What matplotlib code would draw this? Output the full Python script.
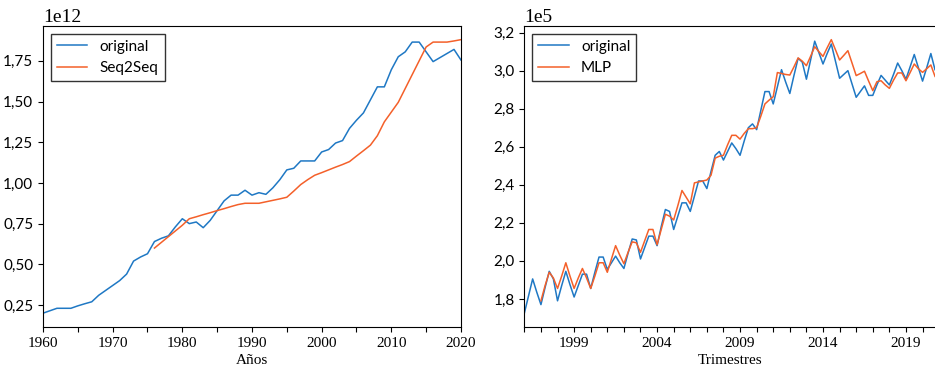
import matplotlib
matplotlib.use('Agg')
import matplotlib.pyplot as plt
from matplotlib.ticker import ScalarFormatter, MultipleLocator, FuncFormatter
import numpy as np

# ---- data: yearly series (units of 1e12) ----
years = list(range(1960, 2021))
original_yearly = [
    0.20, 0.215, 0.23, 0.23, 0.23, 0.245, 0.258, 0.27, 0.31, 0.34,
    0.37, 0.40, 0.44, 0.52, 0.545, 0.565, 0.64, 0.66, 0.675, 0.73,
    0.78, 0.75, 0.76, 0.725, 0.77, 0.83, 0.89, 0.925, 0.925, 0.955,
    0.925, 0.94, 0.93, 0.97, 1.02, 1.08, 1.09, 1.135, 1.135, 1.135,
    1.19, 1.205, 1.245, 1.26, 1.335, 1.385, 1.43, 1.51, 1.59, 1.59,
    1.695, 1.775, 1.805, 1.865, 1.865, 1.805, 1.745, 1.77, 1.795, 1.82,
    1.755,
]
seq2seq_years = list(range(1976, 2021))
seq2seq_yearly = [
    0.60, 0.635, 0.67, 0.705, 0.74, 0.78, 0.792, 0.805, 0.817, 0.83,
    0.842, 0.855, 0.867, 0.875, 0.875, 0.875, 0.884, 0.893, 0.902, 0.912,
    0.95, 0.99, 1.02, 1.047, 1.063, 1.08, 1.097, 1.113, 1.131, 1.165,
    1.198, 1.232, 1.29, 1.375, 1.435, 1.495, 1.58, 1.665, 1.75, 1.835,
    1.865, 1.865, 1.865, 1.872, 1.88,
]

# ---- data: quarterly series 1996Q1-2020Q4 (units of 1e5) ----
original_q = [
    1.725, 1.815, 1.905, 1.835, 1.77, 1.86, 1.945, 1.905, 1.79, 1.87,
    1.945, 1.875, 1.81, 1.87, 1.93, 1.93, 1.855, 1.94, 2.02, 2.02,
    1.955, 1.99, 2.025, 1.99, 1.96, 2.04, 2.115, 2.11, 2.01, 2.07,
    2.13, 2.13, 2.08, 2.18, 2.27, 2.26, 2.165, 2.235, 2.305, 2.305,
    2.26, 2.34, 2.42, 2.42, 2.38, 2.47, 2.555, 2.575, 2.53, 2.575,
    2.62, 2.59, 2.555, 2.63, 2.70, 2.72, 2.69, 2.79, 2.89, 2.89,
    2.825, 2.915, 3.005, 2.94, 2.88, 2.975, 3.065, 3.045, 2.955, 3.055,
    3.155, 3.095, 3.035, 3.09, 3.14, 3.05, 2.96, 2.98, 3.0, 2.93,
    2.86, 2.89, 2.92, 2.87, 2.87, 2.925, 2.975, 2.95, 2.925, 2.98,
    3.04, 3.0, 2.955, 3.02, 3.085, 3.015, 2.945, 3.015, 3.09, 3.005,
]
mlp_q = [
    1.79, 1.87, 1.94, 1.91, 1.855, 1.92, 1.99, 1.92, 1.855, 1.91,
    1.96, 1.91, 1.855, 1.92, 1.99, 1.99, 1.94, 2.01, 2.08, 2.03,
    1.985, 2.045, 2.10, 2.095, 2.045, 2.105, 2.165, 2.165, 2.085, 2.165,
    2.245, 2.235, 2.215, 2.29, 2.37, 2.335, 2.30, 2.41, 2.415, 2.42,
    2.425, 2.45, 2.54, 2.55, 2.555, 2.61, 2.66, 2.66, 2.64, 2.67,
    2.695, 2.695, 2.70, 2.76, 2.825, 2.845, 2.863, 2.99, 2.985, 2.98,
    2.977, 3.02, 3.067, 3.05, 3.026, 3.075, 3.126, 3.10, 3.075, 3.12,
    3.163, 3.11, 3.056, 3.08, 3.105, 3.04, 2.974, 2.985, 2.997, 2.945,
    2.895, 2.942, 2.947, 2.925, 2.907, 2.95, 2.988, 2.988, 2.947, 2.99,
    3.035, 3.01, 2.991, 3.01, 3.03, 2.97,
]
first_quarter = 1996

BLUE = '#1f78c4'
ORANGE = '#f4602a'
SANS = 'Lato'
SERIF = 'Liberation Serif'


class CommaFormatter(ScalarFormatter):
    def __call__(self, x, pos=None):
        return super().__call__(x, pos).replace('.', ',')


def every_n(n, start):
    return FuncFormatter(lambda v, p: '%d' % round(v) if round(v - start) % n == 0 else '')


def style_axis(ax):
    fmt = CommaFormatter(useMathText=False)
    fmt.set_powerlimits((0, 0))
    ax.yaxis.set_major_formatter(fmt)
    ax.tick_params(axis='y', labelsize=11, labelfontfamily=SANS)
    ax.tick_params(axis='x', labelsize=11, labelfontfamily=SERIF)
    ax.yaxis.get_offset_text().set_fontfamily(SERIF)
    ax.yaxis.get_offset_text().set_fontsize(14)
    leg = ax.legend(loc='upper left', fancybox=False, framealpha=1,
                    edgecolor='#333333', prop={'family': SANS, 'size': 11},
                    borderaxespad=0.5)
    leg.get_frame().set_linewidth(1.0)


fig = plt.figure(figsize=(9.35, 3.71), dpi=100)
ax1 = fig.add_axes([0.046, 0.119, 0.447, 0.811])
ax2 = fig.add_axes([0.5608, 0.119, 0.4392, 0.811])

# left: yearly
ax1.plot(years, np.array(original_yearly) * 1e12, color=BLUE, lw=1.1, label='original')
ax1.plot(seq2seq_years, np.array(seq2seq_yearly) * 1e12, color=ORANGE, lw=1.1, label='Seq2Seq')
ax1.set_xlim(1960, 2020)
ax1.xaxis.set_major_locator(MultipleLocator(5))
ax1.xaxis.set_major_formatter(every_n(10, 1960))
ax1.set_xlabel('Años', fontfamily=SERIF, fontsize=11, labelpad=3)
style_axis(ax1)

# right: quarterly
tq = first_quarter + np.arange(len(original_q)) / 4.0
tm = tq[len(original_q) - len(mlp_q):]
ax2.plot(tq, np.array(original_q) * 1e5, color=BLUE, lw=1.1, label='original')
ax2.plot(tm, np.array(mlp_q) * 1e5, color=ORANGE, lw=1.1, label='MLP')
ax2.set_xlim(tq[0], tq[-1])
ax2.xaxis.set_major_locator(MultipleLocator(1))
ax2.xaxis.set_major_formatter(every_n(5, 1999))
ax2.set_xlabel('Trimestres', fontfamily=SERIF, fontsize=11, labelpad=3)
ax2.spines['right'].set_visible(False)
style_axis(ax2)

fig.savefig('out.png', dpi=100)
